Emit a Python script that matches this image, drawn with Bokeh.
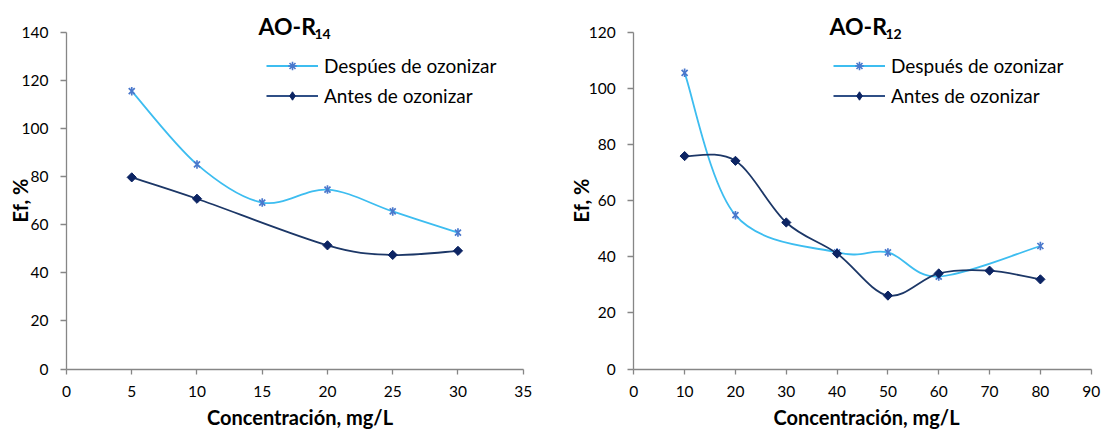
import numpy as np
from bokeh.plotting import figure
from bokeh.models import (Range1d, SingleIntervalTicker, Label, Legend, LegendItem,
                          ColumnDataSource, LinearAxis)
from bokeh.layouts import row
from bokeh.embed import file_html
from bokeh.resources import INLINE

# ---- AO-R14 (left chart) ----
r14_conc_despues = [5, 10, 15, 20, 25, 30]
r14_ef_despues = [115.7, 85.2, 69.3, 74.7, 65.6, 56.8]
r14_conc_antes = [5, 10, 20, 25, 30]
r14_ef_antes = [79.8, 70.9, 51.5, 47.5, 49.2]
r14_label_despues = "Despúes de ozonizar"
r14_label_antes = "Antes de ozonizar"

# ---- AO-R12 (right chart) ----
r12_conc_despues = [10, 20, 40, 50, 60, 80]
r12_ef_despues = [105.7, 54.9, 41.6, 41.6, 33.0, 43.9]
r12_conc_antes = [10, 20, 30, 40, 50, 60, 70, 80]
r12_ef_antes = [76.0, 74.3, 52.3, 41.2, 26.2, 34.1, 35.1, 32.0]
r12_label_despues = "Después de ozonizar"
r12_label_antes = "Antes de ozonizar"

x_title = "Concentración, mg/L"
y_title = "Ef, %"

FONT = "Lato"
AXIS_GRAY = "#868686"
C_DESP_LINE = "#3dbdf0"
C_DESP_MARK = "#4a78cc"
C_ANT_LINE = "#1c3767"
C_ANT_MARK = "#0c2463"
H = 431


def smooth_source(xs, ys):
    x = np.asarray(xs, float)
    y = np.asarray(ys, float)
    xp = np.concatenate([[x[0]], x, [x[-1]]])
    yp = np.concatenate([[y[0]], y, [y[-1]]])
    n = len(x)
    d = dict(x0=[], y0=[], x1=[], y1=[], cx0=[], cy0=[], cx1=[], cy1=[])
    for i in range(n - 1):
        a, b, c, e = i, i + 1, i + 2, i + 3
        d["x0"].append(xp[b]); d["y0"].append(yp[b])
        d["x1"].append(xp[c]); d["y1"].append(yp[c])
        d["cx0"].append(xp[b] + (xp[c] - xp[a]) / 6.0)
        d["cy0"].append(yp[b] + (yp[c] - yp[a]) / 6.0)
        d["cx1"].append(xp[c] - (xp[e] - xp[b]) / 6.0)
        d["cy1"].append(yp[c] - (yp[e] - yp[b]) / 6.0)
    return ColumnDataSource(d)


def make_chart(width, ax_left, ax_right, ax_top, ax_bottom, xmax, xstep, ymax, ystep,
               xd, yd, xa, ya, lab_d, lab_a, title_main, title_sub,
               title_x, sub_dx, xlab_x, ylab_x, legend_x):
    # map the axes' pixel box onto a full-canvas frame
    sx_ = (ax_right - ax_left) / xmax
    sy_ = (ax_bottom - ax_top) / ymax
    x_rng = Range1d(-ax_left / sx_, xmax + (width - ax_right) / sx_)
    y_rng = Range1d(-(H - ax_bottom) / sy_, ymax + ax_top / sy_)

    p = figure(width=width, height=H, output_backend="svg", toolbar_location=None,
               x_range=x_rng, y_range=y_rng, x_axis_location=None, y_axis_location=None,
               min_border=0, min_border_left=0, min_border_right=0,
               min_border_top=0, min_border_bottom=0)
    p.outline_line_color = None
    p.xgrid.visible = False
    p.ygrid.visible = False
    p.background_fill_color = "white"
    p.border_fill_color = "white"

    xaxis = LinearAxis(fixed_location=0, bounds=(0, xmax),
                       ticker=SingleIntervalTicker(interval=xstep))
    yaxis = LinearAxis(fixed_location=0, bounds=(0, ymax),
                       ticker=SingleIntervalTicker(interval=ystep))
    for ax in (xaxis, yaxis):
        ax.axis_line_color = AXIS_GRAY
        ax.axis_line_width = 1.3
        ax.major_tick_line_color = AXIS_GRAY
        ax.major_tick_line_width = 1.3
        ax.major_tick_in = 0
        ax.minor_tick_line_color = None
        ax.major_label_text_font = FONT
        ax.major_label_text_font_size = "15.5px"
        ax.major_label_text_color = "black"
    xaxis.major_tick_out = 5
    yaxis.major_tick_out = 6
    xaxis.major_label_standoff = 12
    yaxis.major_label_standoff = 12
    p.add_layout(xaxis, "below")
    p.add_layout(yaxis, "left")

    # smoothed lines
    p.bezier(x0="x0", y0="y0", x1="x1", y1="y1", cx0="cx0", cy0="cy0", cx1="cx1", cy1="cy1",
             source=smooth_source(xd, yd), line_color=C_DESP_LINE, line_width=1.8)
    p.bezier(x0="x0", y0="y0", x1="x1", y1="y1", cx0="cx0", cy0="cy0", cx1="cx1", cy1="cy1",
             source=smooth_source(xa, ya), line_color=C_ANT_LINE, line_width=1.8)

    # markers
    p.scatter(xd, yd, marker="x", size=8.5, line_color=C_DESP_MARK, line_width=1.7)
    p.scatter(xd, yd, marker="dash", angle=np.pi / 2, size=8.5, line_color=C_DESP_MARK,
              line_width=1.7)
    p.scatter(xa, ya, marker="square", angle=np.pi / 4, size=6.5,
              fill_color=C_ANT_MARK, line_color=C_ANT_MARK, line_width=1)

    # legend samples (no visible data)
    nan = np.array([np.nan])
    ld = p.line(x=nan, y=nan, line_color=C_DESP_LINE, line_width=2)
    lds = p.scatter(x=nan, y=nan, marker="asterisk", size=8, line_color=C_DESP_MARK,
                    line_width=1.6)
    la = p.line(x=nan, y=nan, line_color="#2f4f86", line_width=2)
    las = p.scatter(x=nan, y=nan, marker="diamond", size=11, fill_color=C_ANT_MARK,
                    line_color=C_ANT_MARK, line_width=1)

    legend = Legend(items=[LegendItem(label=lab_d, renderers=[ld, lds]),
                           LegendItem(label=lab_a, renderers=[la, las])],
                    location=(legend_x, H - 107), orientation="vertical",
                    border_line_color=None, background_fill_alpha=0,
                    padding=0, margin=0, spacing=7, glyph_width=52, glyph_height=21,
                    label_height=21, label_standoff=6, label_text_font=FONT,
                    label_text_font_size="19px", label_text_color="black")
    p.add_layout(legend, "center")

    # title with subscript
    p.add_layout(Label(x=title_x, y=H - 25, x_units="screen", y_units="screen", text=title_main,
                       text_font=FONT, text_font_size="23px", text_font_style="bold",
                       text_color="black", text_align="left", text_baseline="alphabetic"))
    p.add_layout(Label(x=title_x + sub_dx, y=H - 33, x_units="screen", y_units="screen",
                       text=title_sub, text_font=FONT, text_font_size="14px",
                       text_font_style="bold", text_color="black", text_align="left",
                       text_baseline="alphabetic"))
    # axis titles
    p.add_layout(Label(x=xlab_x, y=H - 416, x_units="screen", y_units="screen", text=x_title,
                       text_font=FONT, text_font_size="20px", text_font_style="bold",
                       text_color="black", text_align="center", text_baseline="alphabetic"))
    p.add_layout(Label(x=ylab_x, y=H - 200, x_units="screen", y_units="screen", text=y_title,
                       angle=np.pi / 2, text_font=FONT, text_font_size="20px",
                       text_font_style="bold", text_color="black",
                       text_align="center", text_baseline="middle"))
    return p


p1 = make_chart(554, 66, 522.7, 32.3, 368.5, 35, 5, 140, 20,
                r14_conc_despues, r14_ef_despues, r14_conc_antes, r14_ef_antes,
                r14_label_despues, r14_label_antes, "AO-R", "14",
                258, 56, 299.5, 19, 266)
p2 = make_chart(550, 79.3, 536.7, 32.3, 368.5, 90, 10, 120, 20,
                r12_conc_despues, r12_ef_despues, r12_conc_antes, r12_ef_antes,
                r12_label_despues, r12_label_antes, "AO-R", "12",
                275, 56, 312, 26, 279)

layout = row(p1, p2)
open("out.html", "w").write(file_html(layout, INLINE))
